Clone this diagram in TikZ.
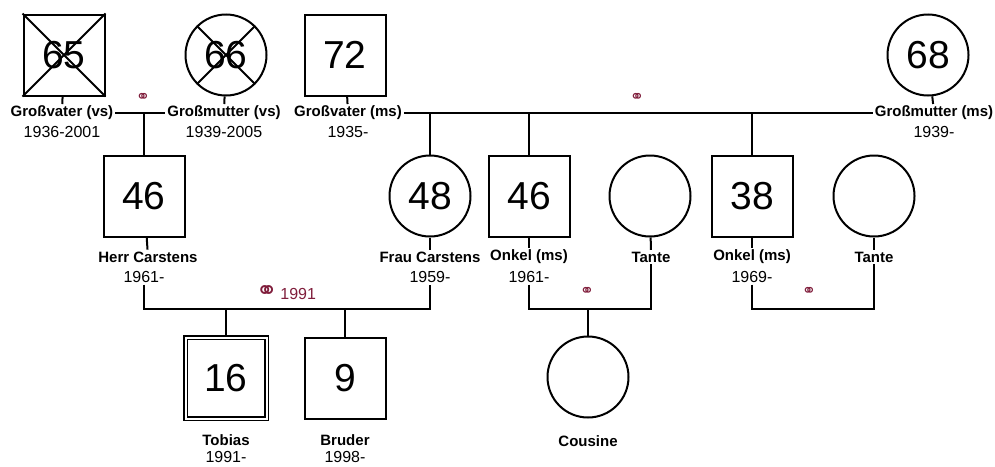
\documentclass[tikz,border=0pt]{standalone}
\usepackage{fontspec}
\setmainfont{Liberation Sans}
\newfontfamily\ringfont{DejaVu Sans}
\definecolor{wine}{RGB}{128,30,60}
\tikzset{
  male/.style={draw, rectangle, minimum size=81pt, inner sep=0pt, font=\fontsize{39}{39}\selectfont},
  female/.style={draw, circle, minimum size=81pt, inner sep=0pt, font=\fontsize{39}{39}\selectfont},
  pname/.style={font=\bfseries\fontsize{15}{15}\selectfont, inner sep=1pt},
  pyear/.style={font=\fontsize{16}{16}\selectfont, inner sep=1pt},
  wedring/.style={text=wine, font=\ringfont\fontsize{17}{17}\selectfont, inner sep=0pt},
}
\begin{document}
\begin{tikzpicture}[x=1pt, y=-1pt, line width=2pt]
  \useasboundingbox (0,0) rectangle (995,466);

  % 1. Grandparents
  \node[male] (gvv) at (64,55) {65};
  \node[female] (gmv) at (226,55) {66};
  \node[male] (gvm) at (345,55) {72};
  \node[female] (gmm) at (928,55) {68};
  \draw (gvv.north west) -- (gvv.south east) (gvv.north east) -- (gvv.south west);
  \draw (gmv.north west) -- (gmv.south east) (gmv.north east) -- (gmv.south west);

  \node[pname] (gvvname) at (62,113) {Großvater (vs)};
  \node[pyear] (gvvborn) at (62,132) {1936-2001};
  \node[pname] (gmvname) at (224,113) {Großmutter (vs)};
  \node[pyear] (gmvborn) at (224,132) {1939-2005};
  \node[pname] (gvmname) at (348,113) {Großvater (ms)};
  \node[pyear] (gvmborn) at (348,132) {1935-};
  \node[pname] (gmmname) at (934,113) {Großmutter (ms)};
  \node[pyear] (gmmborn) at (934,132) {1939-};

  \draw (gvv) -- (gvvname);
  \draw (gmv) -- (gmvname);
  \draw (gvm) -- (gvmname);
  \draw (gmm) -- (gmmname);
  \draw (gvvname) -- (gmvname);
  \draw (gvmname) -- (gmmname);
  \node[wedring] (ringvs) at (143,98) {⚭};
  \node[wedring] (ringms) at (637,98) {⚭};

  % 2. Parents, uncles and aunts
  \node[male] (hc) at (144,196) {46};
  \node[female] (fc) at (430,196) {48};
  \node[male] (onk1) at (529,196) {46};
  \node[female] (tan1) at (650,196) {};
  \node[male] (onk2) at (752,196) {38};
  \node[female] (tan2) at (874,196) {};

  \node[pname] (hcname) at (148,257) {Herr Carstens};
  \node[pyear] (hcborn) at (144,277) {1961-};
  \node[pname] (fcname) at (430,257) {Frau Carstens};
  \node[pyear] (fcborn) at (430,277) {1959-};
  \node[pname] (onk1name) at (529,257) {Onkel (ms)};
  \node[pyear] (onk1born) at (529,277) {1961-};
  \node[pname] (tan1name) at (651,257) {Tante};
  \node[pname] (onk2name) at (752,257) {Onkel (ms)};
  \node[pyear] (onk2born) at (752,277) {1969-};
  \node[pname] (tan2name) at (874,257) {Tante};

  \draw (hc) -- (hcname);
  \draw (fc) -- (fcname);
  \draw (onk1) -- (onk1name);
  \draw (tan1) -- (tan1name);
  \draw (onk2) -- (onk2name);
  \draw (tan2) -- (tan2name);
  \foreach \p in {hc,fc,onk1,onk2}
    \draw (\p.north) -- (\p.north |- gvvname);

  % 3. Couples
  \coordinate (cpar) at (286,309);
  \coordinate (conk1) at (588,309);
  \coordinate (conk2) at (813,309);
  \draw (hcborn.south) -- (hcborn.south |- cpar) -- (fcborn.south |- cpar) -- (fcborn.south);
  \draw (onk1born.south) -- (onk1born.south |- conk1) -- (tan1name.south |- conk1) -- (tan1name.south);
  \draw (onk2born.south) -- (onk2born.south |- conk2) -- (tan2name.south |- conk2) -- (tan2name.south);
  \node[wedring, font=\fontsize{16}{16}\selectfont] (ringpar) at (286,293) {{\ringfont\fontsize{26}{26}\selectfont ⚭}\,1991};
  \node[wedring] (ringonk1) at (587,292) {⚭};
  \node[wedring] (ringonk2) at (809,292) {⚭};

  % 4. Children
  \node[male, double, double distance=2pt, line width=1.4pt] (tob) at (226,378) {16};
  \node[male] (bru) at (345,378) {9};
  \node[female] (cou) at (588,377) {};
  \node[pname] (tobname) at (226,440) {Tobias};
  \node[pyear] (tobborn) at (226,457) {1991-};
  \node[pname] (bruname) at (345,440) {Bruder};
  \node[pyear] (bruborn) at (345,457) {1998-};
  \node[pname] (couname) at (588,441) {Cousine};
  \draw (tob.north) -- (tob.north |- cpar);
  \draw (bru.north) -- (bru.north |- cpar);
  \draw (cou.north) -- (conk1);
\end{tikzpicture}
\end{document}
